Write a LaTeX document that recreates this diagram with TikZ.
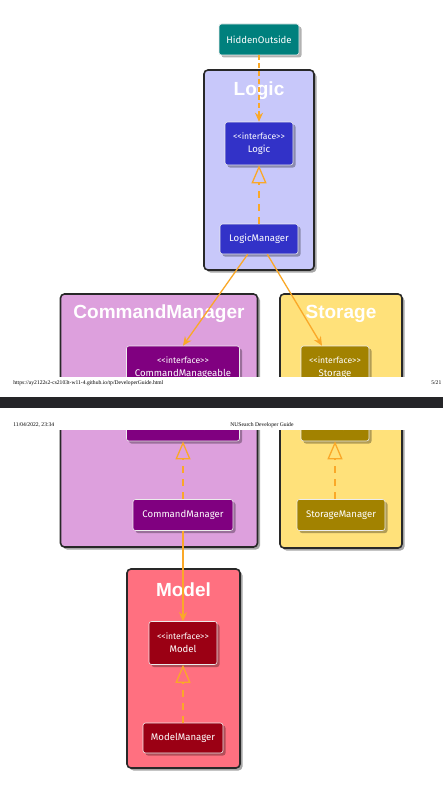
\documentclass[tikz,border=0pt]{standalone}
\usepackage{fontspec}
\setmainfont{Liberation Serif}
\newfontfamily\clsfont{Fira Sans}
\newfontfamily\pkgfont{Liberation Sans}
\usetikzlibrary{arrows.meta,shadows}

\definecolor{arrowOrange}{RGB}{250,168,40}
\definecolor{pkgBorder}{RGB}{40,40,40}
\definecolor{hiddenFill}{RGB}{0,128,125}
\definecolor{logicPkg}{RGB}{200,200,250}
\definecolor{logicCls}{RGB}{50,50,200}
\definecolor{cmPkg}{RGB}{221,160,221}
\definecolor{cmCls}{RGB}{128,0,128}
\definecolor{storagePkg}{RGB}{255,225,122}
\definecolor{storageCls}{RGB}{162,130,0}
\definecolor{modelPkg}{RGB}{255,112,128}
\definecolor{modelCls}{RGB}{155,0,20}
\definecolor{pageBand}{RGB}{37,37,40}

\tikzset{
  every picture/.style={line width=0.75pt},
  pkgbox/.style={draw=pkgBorder, line width=1.6pt, rounded corners=4pt, inner sep=0pt,
    drop shadow={shadow xshift=2.5pt, shadow yshift=-2.5pt, opacity=0.35, fill=black}},
  pkgtitle/.style={text=white, font=\pkgfont\bfseries\fontsize{19}{20}\selectfont},
  clsbox/.style={draw=white!85!gray, line width=0.6pt, rounded corners=2.5pt, text=white,
    align=center, inner sep=0pt, font=\clsfont\fontsize{9.6}{13}\selectfont,
    drop shadow={shadow xshift=2.5pt, shadow yshift=-2.5pt, opacity=0.3, fill=black}},
  ifbox/.style={clsbox, minimum width=68pt, minimum height=43pt},
  dep/.style={draw=arrowOrange, line width=1.3pt, -{Stealth[length=9pt,width=8pt,inset=3pt]}},
  realize/.style={draw=arrowOrange, line width=1.3pt, dash pattern=on 7pt off 6pt,
    -{Triangle[open,length=18pt,width=15pt,line width=1.3pt]}},
  pagetext/.style={font=\fontsize{5.6}{6}\selectfont, anchor=base west, inner sep=0pt},
}

\newcommand{\ifname}[1]{{\fontsize{8.6}{9}\selectfont<<interface>>}\\#1}

\begin{document}
\begin{tikzpicture}[x=1pt,y=1pt,yscale=-1,xscale=1]
  \useasboundingbox (0,0) rectangle (443,800);
  \fill[white] (0,0) rectangle (443,800);

  % Packages
  \node[pkgbox, fill=logicPkg, minimum width=110pt, minimum height=200pt] (logicPkg) at (259,170) {};
  \node[pkgbox, fill=cmPkg, minimum width=197pt, minimum height=253pt] (cmPkg) at (159,420.5) {};
  \node[pkgbox, fill=storagePkg, minimum width=122pt, minimum height=254pt] (storagePkg) at (341,421) {};
  \node[pkgbox, fill=modelPkg, minimum width=113pt, minimum height=199pt] (modelPkg) at (183.5,668.5) {};

  % Package titles
  \node[pkgtitle] (logicTitle) at (259,91) {Logic};
  \node[pkgtitle] (cmTitle) at (159,314) {CommandManager};
  \node[pkgtitle] (storageTitle) at (341,314) {Storage};
  \node[pkgtitle] (modelTitle) at (183.5,590) {Model};

  % Classes
  \node[clsbox, fill=hiddenFill, minimum width=80pt, minimum height=31pt] (hidden) at (259,39.5) {HiddenOutside};
  \node[ifbox, fill=logicCls] (logicIf) at (259,143.5) {\ifname{Logic}};
  \node[clsbox, fill=logicCls, minimum width=78pt, minimum height=30pt] (logicMgr) at (259,239) {LogicManager};

  \node[ifbox, fill=cmCls, minimum width=113pt] (cmIf) at (183,367.5) {\ifname{CommandManageable}};
  \node[ifbox, fill=cmCls, minimum width=113pt] (cmIfCont) at (183,419.5) {\ifname{CommandManageable}};
  \node[clsbox, fill=cmCls, minimum width=100pt, minimum height=31pt] (cmMgr) at (183,515) {CommandManager};

  \node[ifbox, fill=storageCls] (storageIf) at (335,367.5) {\ifname{Storage}};
  \node[ifbox, fill=storageCls] (storageIfCont) at (335,419.5) {\ifname{Storage}};
  \node[clsbox, fill=storageCls, minimum width=88pt, minimum height=31pt] (storageMgr) at (341,515) {StorageManager};

  \node[ifbox, fill=modelCls] (modelIf) at (183,643) {\ifname{Model}};
  \node[clsbox, fill=modelCls, minimum width=80pt, minimum height=30pt] (modelMgr) at (183,738) {ModelManager};

  % Connectors
  \coordinate (lmLeft) at ([xshift=28pt]logicMgr.south west);
  \coordinate (lmRight) at ([xshift=-31pt]logicMgr.south east);
  \coordinate (storageTop) at ([xshift=-13pt]storageIf.north);
  \coordinate (storageMgrTop) at (storageMgr.north -| storageIfCont.south);
  \draw[dep, dash pattern=on 5pt off 3pt] (hidden) -- (logicIf);
  \draw[realize] (logicMgr) -- (logicIf);
  \draw[dep] (lmLeft) -- (cmIf.north);
  \draw[dep] (lmRight) -- (storageTop);
  \draw[realize] (cmMgr) -- (cmIfCont);
  \draw[realize] (storageMgrTop) -- (storageIfCont);
  \draw[dep] (cmMgr) -- (modelIf);
  \draw[realize] (modelMgr) -- (modelIf);

  % Page break
  \fill[white] (0,376.5) rectangle (443,429.5);
  \fill[pageBand] (0,397) rectangle (443,408);
  \node[pagetext] (url) at (13,384) {https://ay2122s2-cs2103t-w11-4.github.io/tp/DeveloperGuide.html};
  \node[pagetext] (pageNo) at (431,384) {5/21};
  \node[pagetext] (date) at (13,426) {11/04/2022, 23:34};
  \node[pagetext] (docTitle) at (230,426) {NUSearch Developer Guide};
\end{tikzpicture}
\end{document}
